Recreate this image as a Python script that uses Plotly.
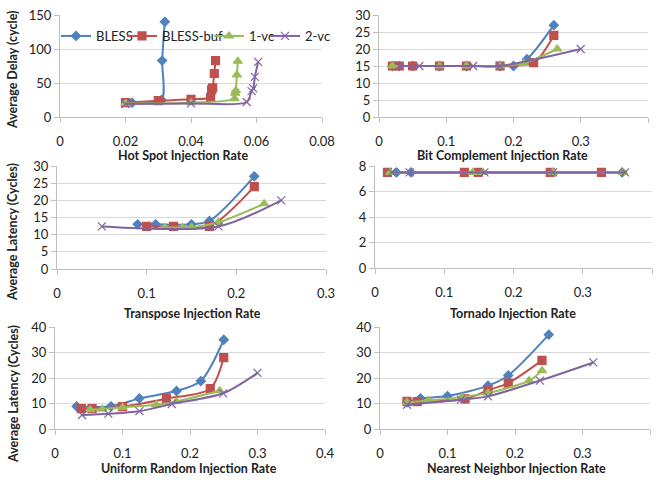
import plotly.graph_objects as go

# ---------------- data ----------------
series = ["BLESS", "BLESS-buf", "1-vc", "2-vc"]

# Hot Spot
hs_bless_x = [0.022, 0.031, 0.0312, 0.032]
hs_bless_y = [21, 25, 83, 140]
hs_buf_x = [0.02, 0.03, 0.04, 0.046, 0.0463, 0.0466, 0.0471, 0.0475]
hs_buf_y = [21, 24, 26, 29, 40, 43, 64, 83]
hs_1vc_x = [0.02, 0.04, 0.0533, 0.0535, 0.0537, 0.054, 0.0543]
hs_1vc_y = [20, 21, 27, 35, 39, 62, 82]
hs_2vc_x = [0.02, 0.04, 0.057, 0.0585, 0.059, 0.0595, 0.0605]
hs_2vc_y = [19, 20, 22, 38, 42, 59, 81]

# Bit Complement
bc_bless_x = [0.02, 0.03, 0.05, 0.09, 0.13, 0.18, 0.2, 0.22, 0.26]
bc_bless_y = [15, 15, 15, 15, 15, 15, 15, 17, 27]
bc_buf_x = [0.02, 0.03, 0.05, 0.09, 0.13, 0.18, 0.23, 0.26]
bc_buf_y = [15, 15, 15, 15, 15, 15, 16, 24]
bc_1vc_x = [0.02, 0.09, 0.13, 0.18, 0.215, 0.265]
bc_1vc_y = [15, 15, 15, 15, 15.8, 20]
bc_2vc_x = [0.03, 0.06, 0.14, 0.18, 0.3]
bc_2vc_y = [15, 15, 15, 15, 20]

# Transpose
tr_bless_x = [0.09, 0.11, 0.15, 0.17, 0.22]
tr_bless_y = [13, 13, 13, 14, 27]
tr_buf_x = [0.1, 0.13, 0.17, 0.22]
tr_buf_y = [12.4, 12.4, 12.4, 24]
tr_1vc_x = [0.12, 0.14, 0.15, 0.18, 0.231]
tr_1vc_y = [12.1, 12.1, 12.1, 13.6, 19]
tr_2vc_x = [0.05, 0.18, 0.25]
tr_2vc_y = [12.4, 12.4, 20]

# Tornado
to_bless_x = [0.031, 0.052, 0.357]
to_bless_y = [7.5, 7.5, 7.5]
to_buf_x = [0.018, 0.129, 0.149, 0.253, 0.327]
to_buf_y = [7.5, 7.5, 7.5, 7.5, 7.5]
to_1vc_x = [0.022, 0.141, 0.156, 0.257, 0.358]
to_1vc_y = [7.5, 7.5, 7.5, 7.5, 7.5]
to_2vc_x = [0.024, 0.05, 0.158, 0.257, 0.361]
to_2vc_y = [7.5, 7.5, 7.5, 7.5, 7.5]

# Uniform Random
ur_bless_x = [0.032, 0.083, 0.125, 0.18, 0.216, 0.25]
ur_bless_y = [8.9, 8.9, 12, 14.9, 18.8, 35]
ur_buf_x = [0.039, 0.055, 0.1, 0.165, 0.23, 0.25]
ur_buf_y = [8, 8, 8.8, 11.9, 15.8, 28]
ur_1vc_x = [0.052, 0.07, 0.1, 0.15, 0.18, 0.244]
ur_1vc_y = [7.6, 7.8, 8.5, 9.5, 10.8, 15]
ur_2vc_x = [0.04, 0.079, 0.125, 0.173, 0.249, 0.3]
ur_2vc_y = [5.5, 6, 7, 9.8, 14, 22]

# Nearest Neighbor
nn_bless_x = [0.04, 0.06, 0.1, 0.16, 0.19, 0.25]
nn_bless_y = [10.5, 12, 12.9, 17, 21, 37]
nn_buf_x = [0.04, 0.055, 0.126, 0.16, 0.19, 0.24]
nn_buf_y = [10.8, 10.7, 11.8, 15.2, 18, 26.9]
nn_1vc_x = [0.04, 0.072, 0.121, 0.16, 0.221, 0.24]
nn_1vc_y = [10.5, 11.2, 12.5, 14.1, 19, 22.9]
nn_2vc_x = [0.04, 0.12, 0.16, 0.237, 0.316]
nn_2vc_y = [9.5, 11.5, 12.8, 19, 26.1]

x_titles = ["Hot Spot Injection Rate", "Bit Complement Injection Rate",
            "Transpose Injection Rate", "Tornado Injection Rate",
            "Uniform Random Injection Rate", "Nearest Neighbor Injection Rate"]
y_titles = ["Average Delay (cycle)", "Average Latency (Cycles)", "Average Latency (Cycles)"]

panels = [
    [(hs_bless_x, hs_bless_y), (hs_buf_x, hs_buf_y), (hs_1vc_x, hs_1vc_y), (hs_2vc_x, hs_2vc_y)],
    [(bc_bless_x, bc_bless_y), (bc_buf_x, bc_buf_y), (bc_1vc_x, bc_1vc_y), (bc_2vc_x, bc_2vc_y)],
    [(tr_bless_x, tr_bless_y), (tr_buf_x, tr_buf_y), (tr_1vc_x, tr_1vc_y), (tr_2vc_x, tr_2vc_y)],
    [(to_bless_x, to_bless_y), (to_buf_x, to_buf_y), (to_1vc_x, to_1vc_y), (to_2vc_x, to_2vc_y)],
    [(ur_bless_x, ur_bless_y), (ur_buf_x, ur_buf_y), (ur_1vc_x, ur_1vc_y), (ur_2vc_x, ur_2vc_y)],
    [(nn_bless_x, nn_bless_y), (nn_buf_x, nn_buf_y), (nn_1vc_x, nn_1vc_y), (nn_2vc_x, nn_2vc_y)],
]

# ---------------- style ----------------
W, H = 657, 483
colors = ["#4F81BD", "#C0504D", "#9BBB59", "#8064A2"]
symbols = ["diamond", "square", "triangle-up", "x-thin"]
msizes = [7, 8, 8, 8]
FONT = "Lato, Open Sans, sans-serif"
AXC = "#BFBFBF"

# pixel boxes: (x0, x1, ytop, ybottom)
boxes = [(60, 322, 15, 117), (379, 648, 15, 117),
         (57, 326, 166, 269), (375, 652, 166, 268),
         (55, 325, 327, 429), (380, 650, 327, 429)]
xranges = [(0, 0.08, 0.02), (0, 0.4, 0.1), (0, 0.3, 0.1), (0, 0.4, 0.1), (0, 0.4, 0.1), (0, 0.4, 0.1)]
yranges = [(0, 150, 50), (0, 30, 5), (0, 30, 5), (0, 8, 2), (0, 40, 10), (0, 40, 10)]

fig = go.Figure()
legend_names = ["legend", "legend2", "legend3", "legend4"]
for p, data in enumerate(panels):
    ax = "" if p == 0 else str(p + 1)
    for s, (xs, ys) in enumerate(data):
        fig.add_trace(go.Scatter(
            x=xs, y=ys, mode="lines+markers", name=series[s],
            xaxis="x" + ax, yaxis="y" + ax,
            line=dict(color=colors[s], width=2, shape="spline", smoothing=0.8),
            marker=dict(symbol=symbols[s], size=msizes[s], color=colors[s],
                        line=dict(color=colors[s], width=1.2)),
            showlegend=(p == 0), legend=legend_names[s], cliponaxis=False,
        ))

layout = dict(width=W, height=H, margin=dict(l=0, r=0, t=0, b=0, autoexpand=False),
              paper_bgcolor="white", plot_bgcolor="white",
              font=dict(family=FONT, size=13, color="#222222"))

for p in range(6):
    x0, x1, yt, yb = boxes[p]
    ax = "" if p == 0 else str(p + 1)
    xr, yr = xranges[p], yranges[p]
    layout["xaxis" + ax] = dict(
        domain=[x0 / W, x1 / W], range=[xr[0], xr[1]], dtick=xr[2],
        anchor="y" + ax, showgrid=False, showline=True, linecolor=AXC,
        ticks="outside", ticklen=5, tickcolor=AXC, zeroline=False,
        automargin=False, ticklabelstandoff=7, tickfont=dict(size=13, color="#222222"))
    layout["yaxis" + ax] = dict(
        domain=[1 - yb / H, 1 - yt / H], range=[yr[0], yr[1]], dtick=yr[2],
        anchor="x" + ax, showgrid=True, gridcolor="#D9D9D9", showline=True,
        linecolor=AXC, ticks="outside", ticklen=5, tickcolor=AXC,
        automargin=False, zeroline=False, tickfont=dict(size=13, color="#222222"))

# legends (one entry each, positioned across the top of the first panel)
leg_text_x = [97, 163, 250, 306]
for s, lname in enumerate(legend_names):
    layout[lname] = dict(x=(leg_text_x[s] - 41) / W, y=1 - 36 / H, xanchor="left",
                         yanchor="middle", bgcolor="rgba(0,0,0,0)", itemwidth=30,
                         font=dict(size=13, color="#222222"))

fig.update_layout(**layout)

# axis titles as annotations
xt_pos = [(183, 156), (502, 156), (192, 313), (513, 313), (189, 468), (516, 468)]
for t, (cx, cy) in zip(x_titles, xt_pos):
    fig.add_annotation(text="<b>%s</b>" % t, x=cx / W, y=1 - cy / H, xref="paper", yref="paper",
                       showarrow=False, xanchor="center", yanchor="middle",
                       font=dict(size=12.5, color="#222222"))
yt_pos = [(13, 70), (13, 232), (13, 394)]
for t, (cx, cy) in zip(y_titles, yt_pos):
    fig.add_annotation(text="<b>%s</b>" % t, x=cx / W, y=1 - cy / H, xref="paper", yref="paper",
                       showarrow=False, xanchor="center", yanchor="middle", textangle=-90,
                       font=dict(size=12.5, color="#222222"))

fig.write_html("out.html", config={"displayModeBar": False},
               post_script="document.body.style.margin='0';document.body.style.overflow='hidden';")
